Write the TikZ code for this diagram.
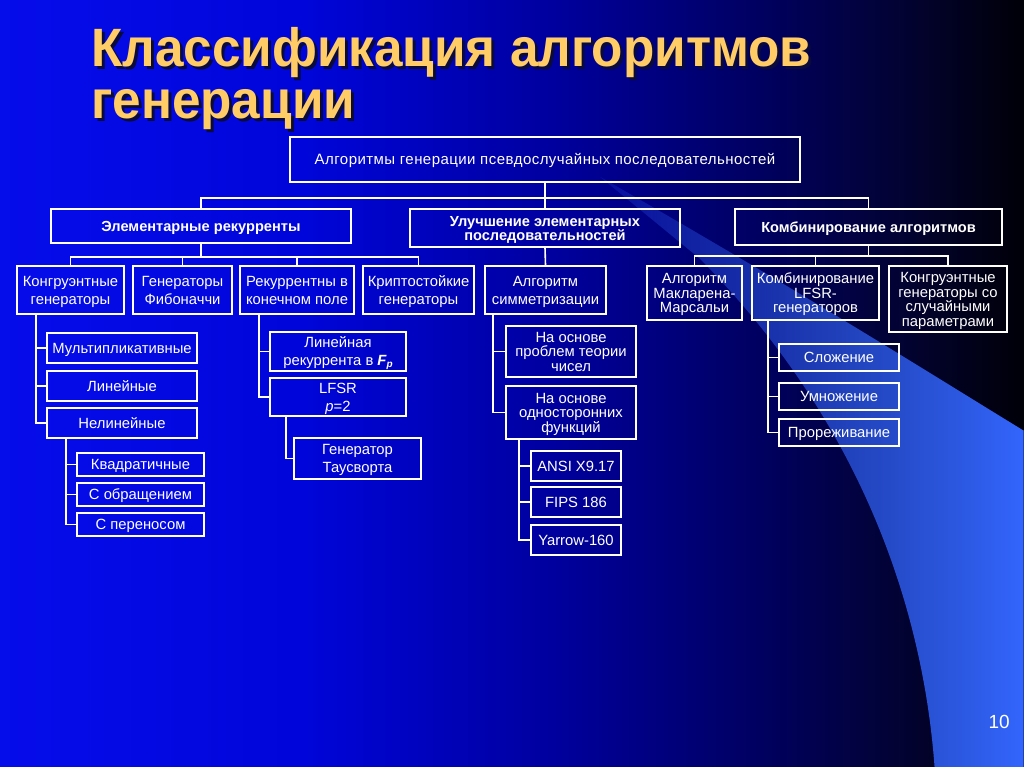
\documentclass[tikz,border=0pt]{standalone}
\usepackage{fontspec}
\setmainfont{Liberation Sans}
\newfontfamily\titlefont[FakeStretch=0.95]{Liberation Sans Bold}
\usetikzlibrary{fadings}
\definecolor{ttl}{RGB}{255,204,102}
\definecolor{ttlshadow}{RGB}{10,10,60}
\definecolor{sw}{RGB}{51,102,255}
\pgfdeclarehorizontalshading{bgsh}{100bp}{rgb(0bp)=(0.02,0.05,0.92); rgb(25bp)=(0.02,0.05,0.92); rgb(40bp)=(0,0.02,0.85); rgb(52bp)=(0,0,0.62); rgb(62bp)=(0,0,0.38); rgb(69bp)=(0.01,0.01,0.2); rgb(75bp)=(0,0,0.03); rgb(100bp)=(0,0,0.03)}
\tikzfading[name=swfade, left color=transparent!85, middle color=transparent!5, right color=transparent!0]
\newcommand\bxA{\rule{0pt}{0.97em}}
\newcommand\bxB{\rule[-0.25em]{0pt}{0.25em}}
\tikzset{
  box/.style={draw=white, line width=1.6pt, inner sep=0pt, text=white, align=center,
    font=\fontsize{14.8}{18}\selectfont},
  tight/.style={font=\fontsize{14.8}{14.6}\selectfont},
  bld/.style={font=\bfseries\fontsize{14.6}{14.2}\selectfont},
  conn/.style={draw=white, line width=1.6pt},
  titlest/.style={font=\titlefont\fontsize{54}{54}\selectfont, inner sep=0pt, anchor=base west, text=ttl},
}
\newcommand\bx[7][]{\node[box,#1] (#2) at ({(#3+#5)/2},{(#4+#6)/2})
  [minimum width={(#5-#3)*1pt}, minimum height={(#6-#4)*1pt}] {\bxA#7\bxB};}
\newcommand\shadowed[1]{\rlap{\hspace{3pt}\raisebox{-3pt}{\color{ttlshadow}#1}}#1}
\begin{document}
\begin{tikzpicture}[x=1pt,y=-1pt]
\useasboundingbox (0,0) rectangle (1024,767);
\shade[shading=bgsh] (0,0) rectangle (1024,767);
% swoosh
\fill[sw, path fading=swfade] (600,176) .. controls (800,290) and (950,385) .. (1024,430)
  -- (1024,767) -- (935,767) .. controls (922,590) and (850,410) .. (700,258) -- cycle;
% title
\node[titlest] (tl1) at (91,67) {\shadowed{Классификация алгоритмов}};
\node[titlest] (tl2) at (91,119) {\shadowed{генерации}};
% boxes
\bx[font=\fontsize{15}{15}\selectfont\addfontfeatures{LetterSpace=3}]{top}{290}{137}{800}{182}{Алгоритмы генерации псевдослучайных последовательностей}
\bx[bld]{e1}{51}{209}{351}{243}{Элементарные рекурренты}
\bx[bld]{e2}{410}{209}{680}{247}{Улучшение элементарных\\последовательностей}
\bx[bld]{e3}{735}{209}{1002}{245}{Комбинирование алгоритмов}
\bx{k1}{17}{266}{124}{314}{Конгруэнтные\\генераторы}
\bx{k2}{133}{266}{232}{314}{Генераторы\\Фибоначчи}
\bx{k3}{240}{266}{354}{314}{Рекуррентны в\\конечном поле}
\bx{k4}{363}{266}{474}{314}{Криптостойкие\\генераторы}
\bx{sym}{485}{266}{606}{314}{Алгоритм\\симметризации}
\bx[tight]{mm}{647}{266}{742}{320}{Алгоритм\\Макларена-\\Марсальи}
\bx[tight]{lf}{752}{266}{879}{320}{Комбинирование\\LFSR-\\генераторов}
\bx[tight]{ks}{889}{266}{1007}{332}{Конгруэнтные\\генераторы со\\случайными\\параметрами}
\bx{c1}{47}{333}{197}{363}{Мультипликативные}
\bx{c2}{47}{371}{197}{401}{Линейные}
\bx{c3}{47}{408}{197}{438}{Нелинейные}
\bx{d1}{77}{453}{204}{476}{Квадратичные}
\bx{d2}{77}{483}{204}{506}{С обращением}
\bx{d3}{77}{513}{204}{536}{С переносом}
\bx{r1}{270}{332}{406}{371}{Линейная\\рекуррента в {\bfseries\itshape F}\raisebox{-0.3ex}{\fontsize{10}{10}\selectfont\bfseries\itshape p}}
\bx{r2}{270}{378}{406}{416}{LFSR\\\textit{p}=2}
\bx{r3}{294}{438}{421}{479}{Генератор\\Таусворта}
\bx[tight]{s1}{506}{326}{636}{377}{На основе\\проблем теории\\чисел}
\bx[tight]{s2}{506}{386}{636}{439}{На основе\\односторонних\\функций}
\bx{a1}{531}{451}{621}{481}{ANSI X9.17}
\bx{a2}{531}{487}{621}{517}{FIPS 186}
\bx{a3}{531}{525}{621}{555}{Yarrow-160}
\bx{o1}{779}{344}{899}{371}{Сложение}
\bx{o2}{779}{383}{899}{410}{Умножение}
\bx{o3}{779}{419}{899}{446}{Прореживание}
% bus coordinates
\coordinate (busA) at (0,198);
\coordinate (busB) at (0,257);
\coordinate (busC) at (0,256);
\coordinate (t1) at (36,0);
\coordinate (t2) at (66,0);
\coordinate (t3) at (259,0);
\coordinate (t4) at (286,0);
\coordinate (t5) at (493,0);
\coordinate (t6) at (519,0);
\coordinate (t7) at (768,0);
% connectors
\draw[conn] (top.south) -- (top.south |- busA);
\draw[conn] (e1.north) |- (e3.north |- busA) -- (e3.north);
\draw[conn] (e2.north) -- (e2.north |- busA);
\draw[conn] (e1.south) -- (e1.south |- busB);
\draw[conn] (k1.north) |- (k4.north |- busB) -- (k4.north);
\draw[conn] (k2.north) -- (k2.north |- busB);
\draw[conn] (k3.north) -- (k3.north |- busB);
\draw[conn] (e2.south) -- (sym.north);
\draw[conn] (e3.south) -- (e3.south |- busC);
\draw[conn] (mm.north) |- (ks.north |- busC) -- (ks.north);
\draw[conn] (lf.north) -- (lf.north |- busC);
\draw[conn] (t1 |- k1.south) |- (c3.west);
\draw[conn] (t1 |- c1.west) -- (c1.west);
\draw[conn] (t1 |- c2.west) -- (c2.west);
\draw[conn] (t2 |- c3.south) |- (d3.west);
\draw[conn] (t2 |- d1.west) -- (d1.west);
\draw[conn] (t2 |- d2.west) -- (d2.west);
\draw[conn] (t3 |- k3.south) |- (r2.west);
\draw[conn] (t3 |- r1.west) -- (r1.west);
\draw[conn] (t4 |- r2.south) |- (r3.west);
\draw[conn] (t5 |- sym.south) |- (s2.west);
\draw[conn] (t5 |- s1.west) -- (s1.west);
\draw[conn] (t6 |- s2.south) |- (a3.west);
\draw[conn] (t6 |- a1.west) -- (a1.west);
\draw[conn] (t6 |- a2.west) -- (a2.west);
\draw[conn] (t7 |- lf.south) |- (o3.west);
\draw[conn] (t7 |- o1.west) -- (o1.west);
\draw[conn] (t7 |- o2.west) -- (o2.west);
% page number
\node[anchor=base east, text=white, font=\fontsize{19}{19}\selectfont, inner sep=0pt] (pg) at (1010,728) {10};
\end{tikzpicture}
\end{document}
